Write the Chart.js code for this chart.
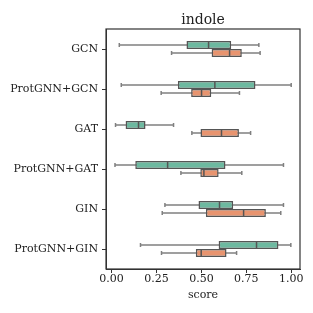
<!DOCTYPE html>
<html>
<head>
<meta charset="utf-8">
<script src="https://cdn.jsdelivr.net/npm/chart.js@4.4.0/dist/chart.umd.min.js"></script>
<style>
  html, body { margin: 0; padding: 0; background: #fff; }
  #wrap { width: 313px; height: 313px; }
</style>
</head>
<body>
<div id="wrap"><canvas id="grafico" width="313" height="313"></canvas></div>
<script>
// models on the y axis
const categories = ["GCN", "ProtGNN+GCN", "GAT", "ProtGNN+GAT", "GIN", "ProtGNN+GIN"];

// green series (upper box)
const greenMin = [0.043, 0.054, 0.022, 0.019, 0.297, 0.161];
const greenQ1 = [0.417, 0.369, 0.078, 0.132, 0.484, 0.596];
const greenMedian = [0.540, 0.575, 0.150, 0.312, 0.601, 0.807];
const greenQ3 = [0.666, 0.801, 0.189, 0.634, 0.677, 0.929];
const greenMax = [0.820, 1.000, 0.345, 0.957, 0.957, 0.998];

// orange series (lower box)
const orangeMin = [0.334, 0.276, 0.447, 0.386, 0.282, 0.278];
const orangeQ1 = [0.557, 0.443, 0.495, 0.494, 0.525, 0.469];
const orangeMedian = [0.657, 0.501, 0.612, 0.514, 0.735, 0.499];
const orangeQ3 = [0.725, 0.555, 0.709, 0.596, 0.859, 0.640];
const orangeMax = [0.827, 0.712, 0.774, 0.725, 0.942, 0.696];

const xTicks = [0, 0.25, 0.5, 0.75, 1.0];

const series = [
  { min: greenMin, q1: greenQ1, med: greenMedian, q3: greenQ3, max: greenMax, color: "#6db9a0" },
  { min: orangeMin, q1: orangeQ1, med: orangeMedian, q3: orangeQ3, max: orangeMax, color: "#e8946f" },
];

const edgeColor = "#555555";
const whiskerColor = "#808080";
const fontFamily = "'DejaVu Serif', serif";

Chart.defaults.font.family = fontFamily;
Chart.defaults.color = "#222";

// whiskers behind the boxes, medians on top
const boxExtras = {
  id: "boxExtras",
  beforeDatasetsDraw(chart) {
    const ctx = chart.ctx;
    const x = chart.scales.x;
    ctx.save();
    ctx.strokeStyle = whiskerColor;
    ctx.lineWidth = 1.5;
    series.forEach((s, d) => {
      const meta = chart.getDatasetMeta(d);
      meta.data.forEach((el, i) => {
        const y = el.y;
        const cap = el.height / 4;
        const x0 = x.getPixelForValue(s.min[i]);
        const x1 = x.getPixelForValue(s.max[i]);
        ctx.beginPath();
        ctx.moveTo(x0, y);
        ctx.lineTo(x1, y);
        ctx.moveTo(x0, y - cap);
        ctx.lineTo(x0, y + cap);
        ctx.moveTo(x1, y - cap);
        ctx.lineTo(x1, y + cap);
        ctx.stroke();
      });
    });
    ctx.restore();
  },
  afterDatasetsDraw(chart) {
    const ctx = chart.ctx;
    const x = chart.scales.x;
    ctx.save();
    ctx.strokeStyle = edgeColor;
    ctx.lineWidth = 1.5;
    series.forEach((s, d) => {
      const meta = chart.getDatasetMeta(d);
      meta.data.forEach((el, i) => {
        const xm = x.getPixelForValue(s.med[i]);
        ctx.beginPath();
        ctx.moveTo(xm, el.y - el.height / 2);
        ctx.lineTo(xm, el.y + el.height / 2);
        ctx.stroke();
      });
    });
    ctx.restore();
  },
  // frame and y tick marks at category centres
  afterDraw(chart) {
    const ctx = chart.ctx;
    const yScale = chart.scales.y;
    const a = chart.chartArea;
    ctx.save();
    ctx.strokeStyle = "#333";
    ctx.lineWidth = 1.2;
    ctx.strokeRect(a.left, a.top, a.right - a.left, a.bottom - a.top);
    ctx.lineWidth = 1;
    ctx.beginPath();
    yScale.ticks.forEach((t, i) => {
      const py = Math.round(yScale.getPixelForTick(i)) + 0.5;
      ctx.moveTo(a.left - 4, py);
      ctx.lineTo(a.left, py);
    });
    ctx.stroke();
    ctx.restore();
  },
};

const ctx = document.getElementById("grafico").getContext("2d");

const chart = new Chart(ctx, {
  type: "bar",
  data: {
    labels: categories,
    datasets: series.map((s) => ({
      data: s.q1.map((v, i) => [v, s.q3[i]]),
      backgroundColor: s.color,
      borderColor: edgeColor,
      borderWidth: 1.5,
      borderSkipped: false,
      categoryPercentage: 0.4,
      barPercentage: 1.0,
    })),
  },
  options: {
    indexAxis: "y",
    responsive: false,
    animation: false,
    layout: { padding: { right: 13 } },
    plugins: {
      legend: { display: false },
      tooltip: { enabled: false },
    },
    scales: {
      x: {
        type: "linear",
        position: "bottom",
        min: -0.031,
        max: 1.049,
        afterBuildTicks: (scale) => {
          scale.ticks = xTicks.map((v) => ({ value: v }));
        },
        ticks: {
          font: { size: 11 },
          padding: 0,
          callback: (v) => Number(v).toFixed(2),
        },
        grid: { drawOnChartArea: false, drawTicks: true, tickLength: 4, color: "#333" },
        border: { display: true, color: "#333" },
        title: { display: true, text: "score", font: { size: 11 }, padding: { top: 2, bottom: 11 } },
        afterFit: (scale) => { scale.height = 44; },
      },
      x2: {
        type: "linear",
        position: "top",
        min: -0.031,
        max: 1.049,
        ticks: { display: false },
        grid: { display: false },
        border: { display: false },
        title: { display: true, text: "indole", font: { size: 14 }, padding: { top: 12, bottom: 0 } },
        afterFit: (scale) => { scale.height = 29; },
      },
      y: {
        type: "category",
        offset: true,
        ticks: { font: { size: 11 }, padding: 4 },
        grid: { display: false, tickLength: 4 },
        border: { display: true, color: "#333" },
        afterFit: (scale) => { scale.width = 106; },
      },
    },
  },
  plugins: [boxExtras],
});
</script>
</body>
</html>
